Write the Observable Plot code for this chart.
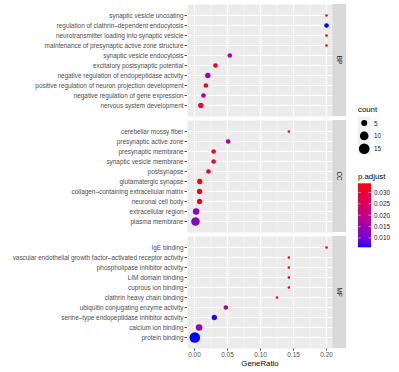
<!DOCTYPE html>
<html>
<head>
<meta charset="utf-8">
<script src="https://cdn.jsdelivr.net/npm/d3@7"></script>
<script src="https://cdn.jsdelivr.net/npm/@observablehq/plot@0.6"></script>
<style>
  html, body { margin: 0; padding: 0; background: #fff; }
  #chart { position: relative; width: 399px; height: 372px; font-family: "Liberation Sans", Arial, sans-serif; overflow: hidden; }
  #chart svg { position: absolute; left: 0; }
</style>
</head>
<body>
<div id="chart"></div>
<script>
// ---- data ----
const bpTerms = ["synaptic vesicle uncoating", "regulation of clathrin–dependent endocytosis", "neurotransmitter loading into synaptic vesicle", "maintenance of presynaptic active zone structure", "synaptic vesicle endocytosis", "excitatory postsynaptic potential", "negative regulation of endopeptidase activity", "positive regulation of neuron projection development", "negative regulation of gene expression", "nervous system development"];
const bpRatio = [0.200, 0.200, 0.200, 0.200, 0.0535, 0.0318, 0.0202, 0.0172, 0.0136, 0.0096];
const bpCount = [1, 3, 1, 1, 3, 3, 4, 3, 3, 4];
const bpPadj  = [0.0335, 0.0059, 0.0335, 0.0335, 0.018, 0.031, 0.013, 0.033, 0.018, 0.031];

const ccTerms = ["cerebellar mossy fiber", "presynaptic active zone", "presynaptic membrane", "synaptic vesicle membrane", "postsynapse", "glutamatergic synapse", "collagen–containing extracellular matrix", "neuronal cell body", "extracellular region", "plasma membrane"];
const ccRatio = [0.143, 0.051, 0.029, 0.029, 0.0212, 0.008, 0.0077, 0.0077, 0.0025, 0.0015];
const ccCount = [1, 3, 3, 3, 3, 4, 4, 4, 6, 10];
const ccPadj  = [0.0335, 0.018, 0.031, 0.031, 0.029, 0.033, 0.033, 0.033, 0.012, 0.012];

const mfTerms = ["IgE binding", "vascular endothelial growth factor–activated receptor activity", "phospholipase inhibitor activity", "LIM domain binding", "cuprous ion binding", "clathrin heavy chain binding", "ubiquitin conjugating enzyme activity", "serine–type endopeptidase inhibitor activity", "calcium ion binding", "protein binding"];
const mfRatio = [0.200, 0.143, 0.143, 0.143, 0.143, 0.125, 0.0475, 0.030, 0.007, 0.0005];
const mfCount = [1, 1, 1, 1, 1, 1, 3, 4, 6, 15];
const mfPadj  = [0.0335, 0.0335, 0.0335, 0.0335, 0.0335, 0.0335, 0.019, 0.0065, 0.014, 0.0059];

const xTicks = [0, 0.05, 0.10, 0.15, 0.20];
const xMinor = [0.025, 0.075, 0.125, 0.175];
const sizeBreaks = [5, 10, 15];
const colorBreaks = [0.010, 0.015, 0.020, 0.025, 0.030];

// ---- scales shared ----
const xDomain = [-0.0106, 0.2098];
const rOpts = {type: "sqrt", domain: [1, 15], range: [1.3, 5.3]};
const colorOpts = {type: "linear", domain: [0.0059, 0.034], range: ["blue", "red"], interpolate: "lab"};
const FONT = "'Liberation Sans', Arial, sans-serif";

const chart = document.getElementById("chart");

function panel(terms, ratio, count, padj, label, top, isBottom) {
  const data = terms.map((t, i) => ({term: t, ratio: ratio[i], count: count[i], p: padj[i]}));
  const panelH = 112;
  const H = isBottom ? panelH + 24 : panelH;
  const svg = Plot.plot({
    width: 346,
    height: H,
    marginLeft: 187,
    marginRight: 13.5,
    marginTop: 0,
    marginBottom: isBottom ? 24 : 0,
    style: {background: "transparent", fontFamily: FONT, fontSize: "6.4px", color: "#4D4D4D", overflow: "visible"},
    x: {domain: xDomain, ticks: xTicks, tickFormat: d3.format(".2f"), tickSize: 2.5, tickPadding: 1.5, label: null, axis: isBottom ? "bottom" : null},
    y: {type: "point", domain: terms, padding: 0.6, tickSize: 2.5, tickPadding: 1.5, label: null},
    r: rOpts,
    color: colorOpts,
    marks: [
      Plot.frame({fill: "#EBEBEB", stroke: "none"}),
      Plot.ruleX(xMinor, {stroke: "white", strokeWidth: 0.5}),
      Plot.ruleX(xTicks, {stroke: "white", strokeWidth: 1}),
      Plot.ruleY(terms, {stroke: "white", strokeWidth: 1}),
      Plot.dot(data, {x: "ratio", y: "term", r: "count", fill: "p"})
    ]
  });
  svg.style.top = top + "px";
  const s = d3.select(svg);
  s.append("rect").attr("x", 332.5).attr("y", 0).attr("width", 13.5).attr("height", panelH).attr("fill", "#D9D9D9");
  s.append("text").attr("transform", `translate(339.5,${panelH / 2}) rotate(90)`)
    .attr("text-anchor", "middle").attr("dominant-baseline", "central")
    .attr("font-size", 6.4).attr("fill", "#1A1A1A").attr("font-family", FONT).text(label);
  chart.appendChild(svg);
}

panel(bpTerms, bpRatio, bpCount, bpPadj, "BP", 4, false);
panel(ccTerms, ccRatio, ccCount, ccPadj, "CC", 120, false);
panel(mfTerms, mfRatio, mfCount, mfPadj, "MF", 236, true);

// ---- x title and legends ----
const leg = d3.select(chart).append("svg")
  .attr("width", 399).attr("height", 372).style("top", "0px").style("pointer-events", "none");

leg.append("text").attr("x", 260).attr("y", 365.5).attr("text-anchor", "middle")
  .attr("font-size", 7.8).attr("fill", "#000").attr("font-family", FONT).text("GeneRatio");

// size legend
const rScale = (Plot.scale ? Plot.scale({r: rOpts}) : null);
const rApply = rScale && rScale.apply ? (v) => rScale.apply(v) : d3.scaleSqrt().domain(rOpts.domain).range(rOpts.range);
leg.append("text").attr("x", 358).attr("y", 111.5).attr("font-size", 7.8).attr("fill", "#000").attr("font-family", FONT).text("count");
const keyH = 12.8, keyTop = 116.7;
leg.append("rect").attr("x", 357.7).attr("y", keyTop).attr("width", 13).attr("height", keyH * 3).attr("fill", "#F2F2F2");
sizeBreaks.forEach((v, i) => {
  const cy = keyTop + keyH * (i + 0.5);
  leg.append("circle").attr("cx", 364.2).attr("cy", cy).attr("r", rApply(v)).attr("fill", "#000");
  leg.append("text").attr("x", 374).attr("y", cy).attr("dominant-baseline", "central")
    .attr("font-size", 6.4).attr("fill", "#1A1A1A").attr("font-family", FONT).text(v);
});

// color legend
leg.append("text").attr("x", 358).attr("y", 178.5).attr("font-size", 7.8).attr("fill", "#000").attr("font-family", FONT).text("p.adjust");
const barTop = 183.3, barBot = 247.3, barX = 358, barW = 13;
const defs = leg.append("defs");
const grad = defs.append("linearGradient").attr("id", "pgrad").attr("x1", 0).attr("y1", 1).attr("x2", 0).attr("y2", 0);
const interp = d3.interpolateLab("blue", "red");
d3.range(0, 1.0001, 0.05).forEach(t => grad.append("stop").attr("offset", t).attr("stop-color", interp(t)));
leg.append("rect").attr("x", barX).attr("y", barTop).attr("width", barW).attr("height", barBot - barTop).attr("fill", "url(#pgrad)");
const cy = d3.scaleLinear().domain(colorOpts.domain).range([barBot, barTop]);
colorBreaks.forEach(v => {
  const y = cy(v);
  leg.append("line").attr("x1", barX).attr("x2", barX + 2.6).attr("y1", y).attr("y2", y).attr("stroke", "white").attr("stroke-width", 0.5);
  leg.append("line").attr("x1", barX + barW - 2.6).attr("x2", barX + barW).attr("y1", y).attr("y2", y).attr("stroke", "white").attr("stroke-width", 0.5);
  leg.append("text").attr("x", 374).attr("y", y).attr("dominant-baseline", "central")
    .attr("font-size", 6.4).attr("fill", "#1A1A1A").attr("font-family", FONT).text(d3.format(".3f")(v));
});
</script>
</body>
</html>
